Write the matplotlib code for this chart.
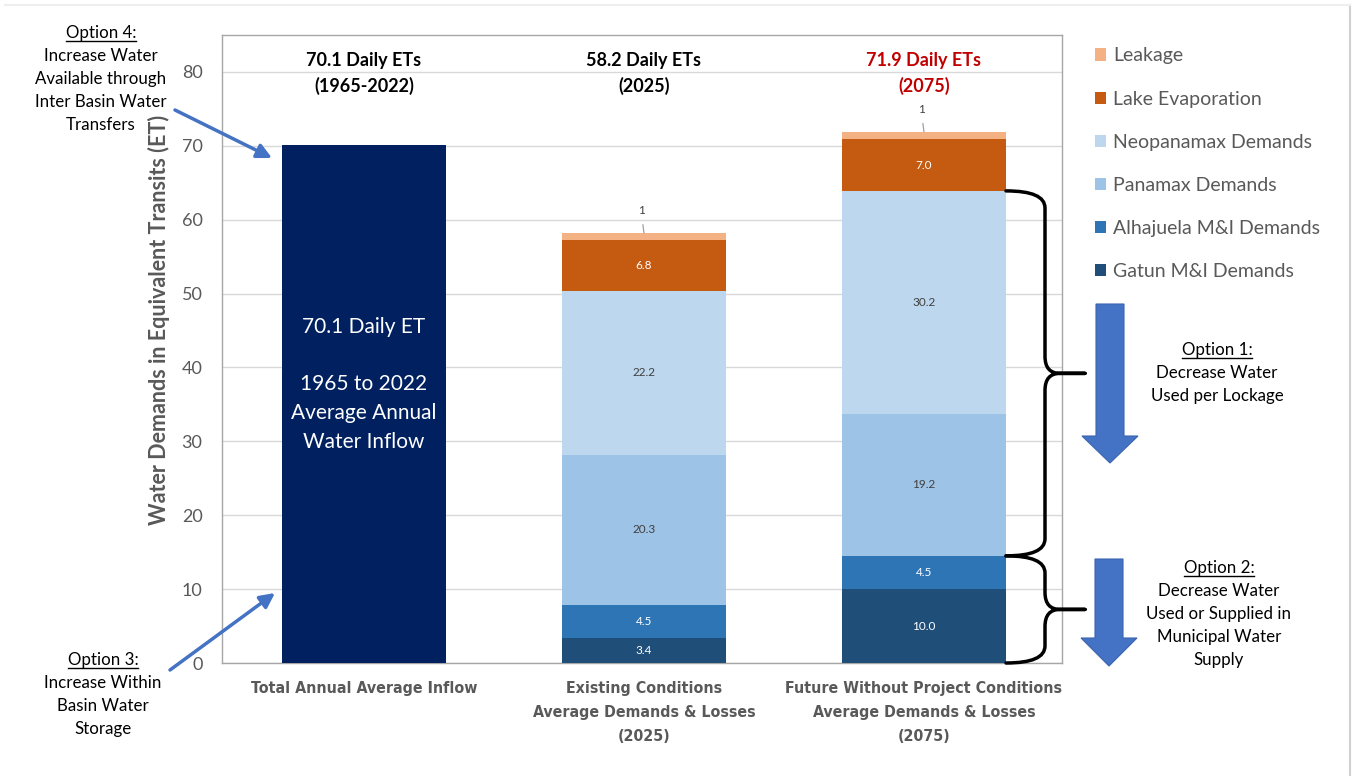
import matplotlib.pyplot as plt
import numpy as np
from matplotlib.path import Path
from matplotlib.patches import PathPatch, FancyArrow

# data
categories = ["Total Annual Average Inflow",
              "Existing Conditions\nAverage Demands & Losses\n(2025)",
              "Future Without Project Conditions\nAverage Demands & Losses\n(2075)"]
inflow = 70.1
series = ["Gatun M&I Demands", "Alhajuela M&I Demands", "Panamax Demands",
          "Neopanamax Demands", "Lake Evaporation", "Leakage"]
existing = [3.4, 4.5, 20.3, 22.2, 6.8, 1.0]
future = [10.0, 4.5, 19.2, 30.2, 7.0, 1.0]
titles = ["70.1 Daily ETs\n(1965-2022)", "58.2 Daily ETs\n(2025)", "71.9 Daily ETs\n(2075)"]
label_fmt = ["{:.1f}", "{:.1f}", "{:.1f}", "{:.1f}", "{:.1f}", "{:.0f}"]

colors = ["#1F4E79", "#2E75B6", "#9DC3E6", "#BDD7EE", "#C55A11", "#F4B183"]
label_colors = ["white", "white", "#404040", "#404040", "white", "#404040"]
gray = "#595959"
blue = "#4472C4"

plt.rcParams['font.family'] = ['Lato', 'DejaVu Sans']

fig = plt.figure(figsize=(13.55, 7.76), dpi=100)
ax = fig.add_axes([222/1355, 1 - 663/776, 840/1355, 628/776])

w = 0.586
x = np.arange(3)

ax.bar(0, inflow, w, color="#002060", zorder=3)
ax.text(0, 37.7, "70.1 Daily ET\n\n1965 to 2022\nAverage Annual\nWater Inflow",
        ha="center", va="center", color="white", fontsize=15, linespacing=1.55, zorder=4)

handles = []
for xi, vals in [(1, existing), (2, future)]:
    bottom = 0
    for i, v in enumerate(vals):
        b = ax.bar(xi, v, w, bottom=bottom, color=colors[i], zorder=3)
        if xi == 1:
            handles.append(b)
        if i < 5:
            ax.text(xi, bottom + v / 2, label_fmt[i].format(v), ha="center", va="center",
                    fontsize=8.5, color=label_colors[i], zorder=4)
        else:
            ax.annotate(label_fmt[i].format(v), xy=(xi, bottom + v), xytext=(xi - 0.01, bottom + v + 3.0),
                        ha="center", va="center", fontsize=8.5, color="#404040",
                        arrowprops=dict(arrowstyle="-", color="#A0A0A0", lw=0.9, shrinkA=4, shrinkB=0))
        bottom += v

title_colors = ["black", "black", "#C00000"]
for xi, t, c in zip(x, titles, title_colors):
    ax.text(xi, 79.75, t, ha="center", va="center", fontsize=13, fontweight="bold",
            color=c, linespacing=1.55)

ax.set_ylim(0, 85)
ax.set_xlim(-0.507, 2.493)
ax.set_yticks(range(0, 81, 10))
ax.yaxis.grid(True, color="#D9D9D9", lw=1, zorder=0)
ax.tick_params(axis="y", length=0, labelsize=13, labelcolor=gray, pad=14)
ax.tick_params(axis="x", length=0, pad=13)
ax.set_xticks(x)
ax.set_xticklabels(categories, fontsize=11.4, fontweight="bold", color=gray, linespacing=1.75,
                   family=['DejaVu Sans'], fontstretch="condensed", va="top")
for s in ax.spines.values():
    s.set_color("#A6A6A6")
    s.set_linewidth(1)
ax.set_ylabel("Water Demands in Equivalent Transits (ET)", fontsize=15.5, fontweight="bold",
              color=gray)
ax.yaxis.set_label_coords(-0.062, 46.5 / 85)

leg = fig.legend(handles[::-1], series[::-1], loc="upper left", bbox_to_anchor=(1077/1355, 1 - 30/776),
                 frameon=False, fontsize=14, labelspacing=1.34, handlelength=0.6, handleheight=0.6,
                 handletextpad=0.35)
for t in leg.get_texts():
    t.set_color(gray)


# curly braces beside the future bar
def brace(top, bot, x0):
    r = 2.3
    xv = x0 + 39 / 280
    xm = xv + 15 / 280
    xt = x0 + 79 / 280
    mid = (top + bot) / 2
    verts = [(x0, top), (xv, top), (xv, top - r),
             (xv, mid + r), (xv, mid), (xm, mid),
             (xt, mid), (xm, mid),
             (xv, mid), (xv, mid - r),
             (xv, bot + r), (xv, bot), (x0, bot)]
    codes = [Path.MOVETO, Path.CURVE3, Path.CURVE3,
             Path.LINETO, Path.CURVE3, Path.CURVE3,
             Path.LINETO, Path.LINETO,
             Path.CURVE3, Path.CURVE3,
             Path.LINETO, Path.CURVE3, Path.CURVE3]
    ax.add_patch(PathPatch(Path(verts, codes), fill=False, lw=2.5, color="black",
                           clip_on=False, zorder=5, capstyle="round", joinstyle="round"))


x_edge = 2 + w / 2
gatun_alh = future[0] + future[1]
lock_top = sum(future[:4])
brace(lock_top, gatun_alh, x_edge)
brace(gatun_alh, 0, x_edge)

# overlay in pixel coordinates for notes and arrows
ov = fig.add_axes([0, 0, 1, 1], zorder=10)
ov.set_xlim(0, 1355)
ov.set_ylim(776, 0)
ov.axis("off")
ov.patch.set_alpha(0)

ov.plot([1350, 1350], [5, 776], color="#D0D0D0", lw=1.5)
ov.plot([5, 1350], [5, 5], color="#EEEEEE", lw=1.5)

ov.add_patch(FancyArrow(1110, 304, 0, 159, width=28, head_width=56, head_length=27,
                        length_includes_head=True, fc=blue, ec="#3A64B0", lw=0.8))
ov.add_patch(FancyArrow(1109, 559, 0, 107, width=28, head_width=56, head_length=28,
                        length_includes_head=True, fc=blue, ec="#3A64B0", lw=0.8))

ov.annotate("", xy=(272, 158), xytext=(175, 110),
            arrowprops=dict(arrowstyle="-|>", color=blue, lw=2.5, mutation_scale=22, shrinkA=0, shrinkB=0))
ov.annotate("", xy=(275, 593), xytext=(170, 670),
            arrowprops=dict(arrowstyle="-|>", color=blue, lw=2.5, mutation_scale=22, shrinkA=0, shrinkB=0))

notes = [
    (101, 33, "Option 4:", ["Increase Water", "Available through", "Inter Basin Water", "Transfers"]),
    (103, 660, "Option 3:", ["Increase Within", "Basin Water", "Storage"]),
    (1217, 350, "Option 1:", ["Decrease Water", "Used per Lockage"]),
    (1219, 568, "Option 2:", ["Decrease Water", "Used or Supplied in", "Municipal Water", "Supply"]),
]
heads = []
for nx, ny, head, lines in notes:
    h = ov.text(nx, ny, head, ha="center", va="center", fontsize=12.2, color="black")
    heads.append((h, ny))
    for k, line in enumerate(lines):
        ov.text(nx, ny + 23 * (k + 1), line, ha="center", va="center", fontsize=12.2, color="black")

fig.canvas.draw()
inv = ov.transData.inverted()
for h, ny in heads:
    bb = h.get_window_extent()
    (x0, _), (x1, _) = inv.transform([(bb.x0, bb.y0), (bb.x1, bb.y1)])
    ov.plot([x0, x1], [ny + 8, ny + 8], color="black", lw=1)

fig.savefig("out.png", dpi=100, facecolor="white")
